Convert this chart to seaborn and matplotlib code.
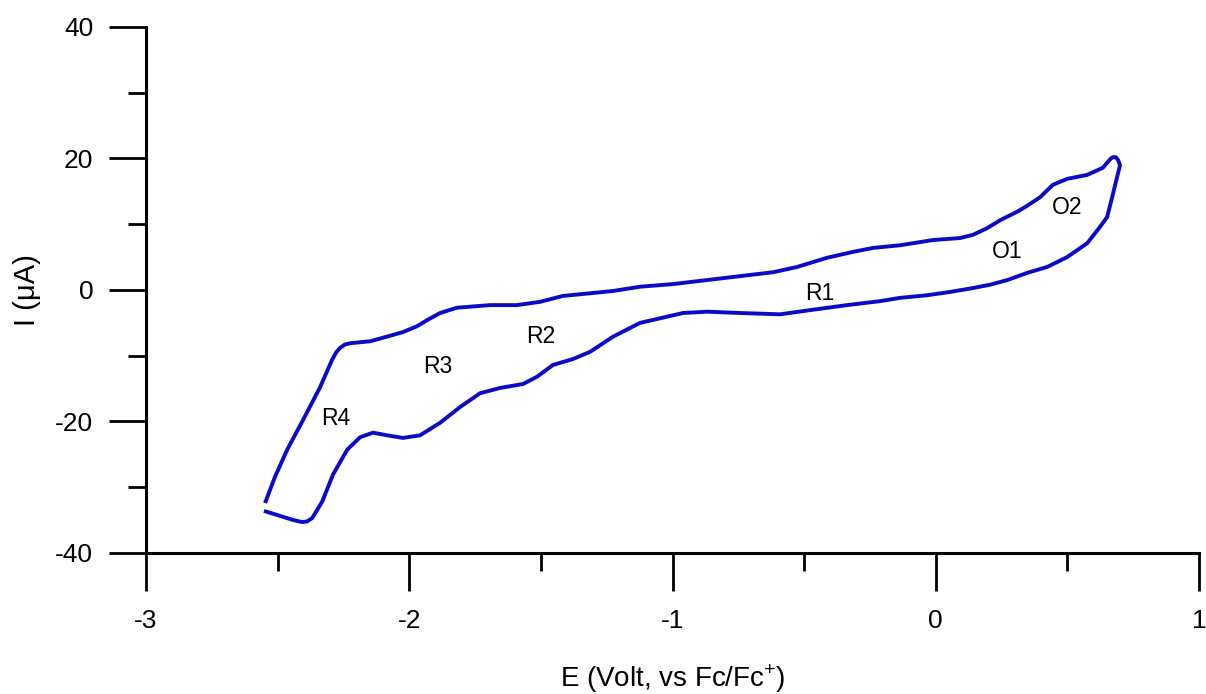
import numpy as np
import pandas as pd
import matplotlib
matplotlib.use("Agg")
import matplotlib.pyplot as plt
import seaborn as sns
from matplotlib.ticker import MultipleLocator

# cyclic voltammogram (one full loop)
potential = [
    -2.548, -2.510, -2.464, -2.404, -2.339, -2.293, -2.278, -2.263, -2.245, -2.225,
    -2.149, -2.085, -2.024, -1.970, -1.933, -1.883, -1.819, -1.693, -1.591, -1.503,
    -1.416, -1.313, -1.226, -1.123, -0.998, -0.808, -0.618, -0.527, -0.413, -0.314,
    -0.238, -0.136, -0.010, 0.092, 0.142, 0.195, 0.244, 0.309, 0.347, 0.396,
    0.445, 0.499, 0.575, 0.635, 0.654, 0.665, 0.673, 0.684, 0.692, 0.700,
    0.689, 0.670, 0.651, 0.624, 0.575, 0.499, 0.423, 0.347, 0.271, 0.206,
    0.142, 0.054, -0.033, -0.136, -0.212, -0.337, -0.466, -0.592, -0.744, -0.869,
    -0.960, -1.047, -1.123, -1.226, -1.313, -1.378, -1.454, -1.515, -1.568, -1.655,
    -1.731, -1.807, -1.883, -1.959, -2.024, -2.085, -2.138, -2.187, -2.236, -2.290,
    -2.331, -2.369, -2.388, -2.407, -2.440, -2.480, -2.552,
]
current = [
    -32.4, -28.4, -24.3, -19.8, -14.8, -10.6, -9.5, -8.8, -8.3, -8.1,
    -7.8, -7.1, -6.4, -5.5, -4.6, -3.5, -2.7, -2.3, -2.3, -1.8,
    -0.9, -0.5, -0.15, 0.5, 0.9, 1.8, 2.7, 3.5, 4.9, 5.8,
    6.4, 6.8, 7.6, 7.9, 8.4, 9.4, 10.6, 11.9, 12.8, 14.1,
    16.0, 16.9, 17.5, 18.6, 19.5, 20.0, 20.2, 20.2, 19.8, 19.0,
    17.2, 14.1, 11.1, 9.6, 7.1, 5.0, 3.5, 2.6, 1.5, 0.8,
    0.3, -0.3, -0.8, -1.2, -1.7, -2.3, -3.0, -3.7, -3.5, -3.3,
    -3.5, -4.3, -5.0, -7.1, -9.4, -10.5, -11.4, -13.2, -14.3, -14.9,
    -15.7, -17.8, -20.2, -22.1, -22.5, -22.1, -21.7, -22.4, -24.3, -28.1,
    -32.2, -34.7, -35.2, -35.3, -35.0, -34.5, -33.6,
]

peak_names = ["R1", "R2", "R3", "R4", "O1", "O2"]
peak_e = [-0.44, -1.50, -1.89, -2.28, 0.27, 0.50]
peak_i = [-0.5, -7.1, -11.7, -19.5, 5.8, 12.5]

sns.set_style("ticks")
plt.rcParams["font.family"] = ["Liberation Sans", "DejaVu Sans"]
plt.rcParams["mathtext.fontset"] = "custom"
plt.rcParams["mathtext.rm"] = "Liberation Sans"
plt.rcParams["axes.unicode_minus"] = False
for key in ["text.color", "axes.labelcolor", "xtick.color", "ytick.color",
            "xtick.labelcolor", "ytick.labelcolor"]:
    plt.rcParams[key] = "black"

cv = pd.DataFrame({"E": potential, "I": current})

fig = plt.figure(figsize=(12.06, 6.94), dpi=100)
ax = fig.add_axes([0.1211, 0.2032, 0.8731, 0.7579])

sns.lineplot(data=cv, x="E", y="I", sort=False, estimator=None,
             color="#0a0ac8", linewidth=2.8, ax=ax)
ax.lines[0].set_solid_joinstyle("round")
ax.lines[0].set_solid_capstyle("butt")

for name, e, i in zip(peak_names, peak_e, peak_i):
    ax.text(e, i, name, fontsize=16.5, ha="center", va="center", color="black")

ax.set_xlim(-3, 1)
ax.set_ylim(-40, 40)
ax.xaxis.set_major_locator(MultipleLocator(1))
ax.xaxis.set_minor_locator(MultipleLocator(0.5))
ax.yaxis.set_major_locator(MultipleLocator(20))
ax.yaxis.set_minor_locator(MultipleLocator(10))

ax.tick_params(which="major", direction="out", length=27, width=2.0,
               labelsize=19, color="black")
ax.tick_params(which="minor", direction="out", length=13, width=2.0, color="black")
ax.tick_params(axis="x", which="major", pad=13)
ax.tick_params(axis="y", which="major", pad=11)

sns.despine(ax=ax)
for side in ["left", "bottom"]:
    ax.spines[side].set_linewidth(2.2)
    ax.spines[side].set_color("black")

ax.set_xlabel("E (Volt, vs Fc/Fc$^{+}$)", fontsize=20, labelpad=22)
ax.set_ylabel("I (\u03bcA)", fontsize=21, labelpad=10)

fig.savefig("out.png", dpi=100)
